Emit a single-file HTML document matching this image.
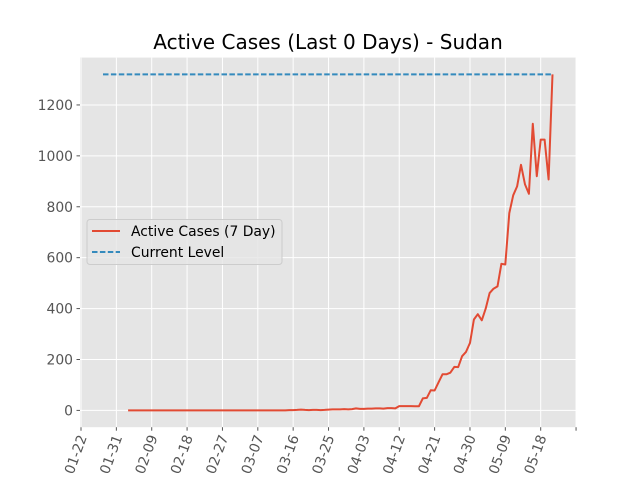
<!DOCTYPE html>
<html><head><meta charset="utf-8"><style>body{margin:0;background:#fff}svg{display:block;font-family:"DejaVu Sans","Liberation Sans",sans-serif}</style></head>
<body>
<svg id="c" width="640" height="480">
<rect x="0" y="0" width="640" height="480" fill="#fff"/>
<rect x="80" y="57.6" width="496" height="369.6" fill="#E5E5E5"/>
<g id="grid"></g>
<g id="xt"></g>
<g id="yt"></g>
<g id="series"></g>
<text x="328" y="49" text-anchor="middle" font-size="20" fill="#000">Active Cases (Last 0 Days) - Sudan</text>
<g>
<rect x="87" y="219.5" width="195" height="45" rx="3" fill="#E5E5E5" fill-opacity="0.8" stroke="#ccc"/>
<line x1="92" y1="231" x2="120" y2="231" stroke="#E24A33" stroke-width="2"/>
<text x="131" y="236" font-size="13.9" fill="#000">Active Cases (7 Day)</text>
<line x1="92" y1="252" x2="120" y2="252" stroke="#348ABD" stroke-width="2" stroke-dasharray="5.5,2.4"/>
<text x="131" y="257" font-size="13.9" fill="#000">Current Level</text>
</g>
</svg>
<script>
const tickLabels=["01-22","01-31","02-09","02-18","02-27","03-07","03-16","03-25","04-03","04-12","04-21","04-30","05-09","05-18",""];
const yTicks=[0,200,400,600,800,1000,1200];
const startDay=12;
const activeValues=[0,0,0,0,0,0,0,0,0,0,0,0,0,0,0,0,0,0,0,0,0,0,0,0,0,0,0,0,0,0,0,0,0,0,0,0,0,0,0,0,0,
1,1,2,3,2,1,2,2,1,2,3,4,4,4,5,4,5,8,6,6,7,7,8,8,7,9,9,8,17,17,17,17,
16,16,47,49,79,78,110,142,142,148,171,170,213,230,265,357,378,354,400,461,478,487,576,573,775,845,880,965,888,851,1126,920,1064,1064,907,1320];
const currentLevel=[1320];
const currentStart=[5.6];
const NS="http://www.w3.org/2000/svg";
const xS=d=>81+d*3.929;
const yS=v=>427.2-(v+66)/1452*369.6;
function mk(p,t,a){const e=document.createElementNS(NS,t);for(const k in a)e.setAttribute(k,a[k]);p.appendChild(e);return e;}
const grid=document.getElementById('grid'),xt=document.getElementById('xt'),yt=document.getElementById('yt'),ser=document.getElementById('series');
tickLabels.forEach((l,i)=>{const x=xS(i*9);
 const g=mk(grid,'line',{x1:x,x2:x,y1:57.6,y2:427.2,stroke:'#fff','stroke-width':1});
 
 
 const t=mk(xt,'line',{x1:x,x2:x,y1:427.2,y2:430.7,stroke:'#555'});
 
 
 if(l){const tx=mk(xt,'text',{x:0,y:0,'font-size':13.9,fill:'#555','text-anchor':'end',transform:`translate(${x+6},${437}) rotate(-70)`});tx.textContent=l;
 
 }
});
yTicks.forEach(v=>{const y=yS(v);
 const g=mk(grid,'line',{x1:80,x2:576,y1:y,y2:y,stroke:'#fff','stroke-width':1});
 
 
 const t=mk(yt,'line',{x1:76.5,x2:80,y1:y,y2:y,stroke:'#555'});
 
 
 const tx=mk(yt,'text',{x:73,y:y+5,'font-size':13.9,fill:'#555','text-anchor':'end'});tx.textContent=v;
 
 
});
const endDay=startDay+activeValues.length-1;
const dl=mk(ser,'line',{x1:xS(currentStart[0]),x2:xS(endDay),y1:yS(currentLevel[0]),y2:yS(currentLevel[0]),stroke:'#348ABD','stroke-width':2,'stroke-dasharray':'5.5,2.4'});


const pts=activeValues.map((v,i)=>xS(startDay+i).toFixed(1)+','+yS(v).toFixed(1)).join(' ');
const pl=mk(ser,'polyline',{points:pts,fill:'none',stroke:'#E24A33','stroke-width':2,'stroke-linejoin':'round'});


</script>
</body></html>
